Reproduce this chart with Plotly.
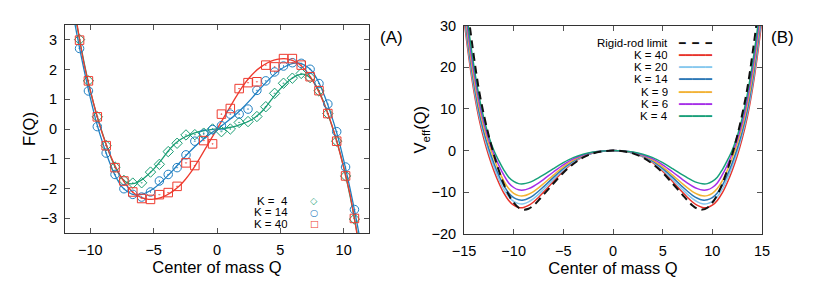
import plotly.graph_objects as go

# ---------------- Panel A data ----------------
q_markers = [-10.85, -10.15, -9.45, -8.75, -8.05, -7.35, -6.65, -5.95, -5.25, -4.55,
             -3.85, -3.15, -2.45, -1.75, -1.05, -0.35, 0.35, 1.05, 1.75, 2.45,
             3.15, 3.85, 4.55, 5.25, 5.95, 6.65, 7.35, 8.05, 8.75, 9.45, 10.15, 10.85]
f_k4_points = [3.01, 1.62, 0.41, -0.56, -1.28, -1.73, -1.82, -1.81, -1.45, -1.19,
               -0.76, -0.48, -0.20, -0.19, -0.14, 0.00, -0.09, 0.00, 0.22, 0.25,
               0.42, 0.75, 1.20, 1.54, 1.71, 1.87, 1.73, 1.28, 0.52, -0.41, -1.58, -3.03]
f_k14_points = [2.71, 1.28, 0.08, -0.81, -1.53, -2.01, -2.20, -2.29, -2.12, -1.75,
                -1.53, -1.30, -0.87, -0.41, -0.17, -0.02, 0.11, 0.50, 0.50, 0.67,
                1.30, 1.62, 1.92, 2.12, 2.23, 2.21, 2.01, 1.53, 0.84, -0.09, -1.28, -2.71]
f_k40_points = [2.99, 1.62, 0.41, -0.56, -1.30, -1.75, -2.12, -2.34, -2.37, -2.21,
                -2.14, -1.93, -1.14, -1.23, -0.39, -0.50, 0.50, 0.69, 1.36, 1.56,
                1.59, 2.15, 2.09, 2.37, 2.37, 2.15, 1.76, 1.29, 0.52, -0.41, -1.58, -3.01]

# fitted curves (Q >= 0 half; curves are odd in Q)
q_fit_half = [0, 0.5, 1, 1.5, 2, 2.5, 3, 3.5, 4, 4.5, 5, 5.5, 6, 6.5, 7, 7.5, 8, 8.5,
              9, 9.5, 10, 10.5, 11, 11.5]
f_k4_fit_half = [0, 0.02, 0.05, 0.10, 0.17, 0.26, 0.39, 0.57, 0.82, 1.10, 1.35, 1.56,
                 1.73, 1.83, 1.83, 1.66, 1.32, 0.82, 0.20, -0.48, -1.28, -2.25, -3.35, -4.6]
f_k14_fit_half = [0, 0.15, 0.32, 0.50, 0.70, 0.92, 1.16, 1.40, 1.62, 1.83, 2.00, 2.13,
                  2.21, 2.22, 2.13, 1.95, 1.60, 1.10, 0.50, -0.20, -1.05, -2.00, -3.05, -4.2]
f_k40_fit_half = [0, 0.36, 0.72, 1.08, 1.42, 1.70, 1.93, 2.10, 2.23, 2.32, 2.36, 2.36,
                  2.30, 2.18, 1.97, 1.67, 1.28, 0.80, 0.22, -0.48, -1.30, -2.20, -3.40, -4.7]

# ---------------- Panel B data ----------------
q_pot_half = [0, 1, 2, 3, 4, 5, 6, 7, 7.5, 8, 8.5, 9, 9.5, 10, 10.5, 11, 11.5, 12,
              12.5, 13, 13.5, 14, 14.5, 15]
v_rigid_half = [0, -0.16, -0.66, -1.65, -3.2, -5.3, -7.9, -10.6, -11.95, -13.15, -13.95,
                -14.15, -13.7, -12.5, -10.6, -8.0, -4.7, -0.9, 3.5, 8.6, 14.6, 22.5, 31.5, 42.0]
v_k40_half = [0, -0.15, -0.6, -1.51, -2.88, -4.93, -7.4, -10.0, -11.23, -12.33, -13.15,
              -13.63, -13.62, -13.1, -11.95, -10.15, -7.7, -4.75, -1.3, 2.8, 7.8, 14.2, 22.1, 31.5]
v_k20_half = [0, -0.14, -0.56, -1.41, -2.69, -4.61, -6.91, -9.34, -10.5, -11.52, -12.29,
              -12.74, -12.72, -12.2, -11.05, -9.25, -6.8, -3.85, -0.4, 3.7, 8.7, 15.1, 23.1, 32.8]
v_k14_half = [0, -0.13, -0.52, -1.31, -2.5, -4.28, -6.43, -8.69, -9.76, -10.71, -11.42,
              -11.84, -11.8, -11.3, -10.15, -8.35, -5.9, -2.95, 0.45, 4.5, 9.5, 16.0, 24.0, 33.8]
v_k9_half = [0, -0.12, -0.48, -1.2, -2.29, -3.92, -5.89, -7.96, -8.94, -9.81, -10.46,
             -10.85, -10.8, -10.25, -9.1, -7.25, -4.75, -1.75, 1.6, 5.6, 10.7, 17.2, 25.4, 35.2]
v_k6_half = [0, -0.1, -0.42, -1.05, -2.0, -3.42, -5.13, -6.94, -7.8, -8.55, -9.12,
             -9.45, -9.4, -8.85, -7.75, -5.85, -3.5, -0.75, 2.5, 6.6, 11.9, 18.7, 26.8, 36.3]
v_k4_half = [0, -0.09, -0.35, -0.88, -1.68, -2.88, -4.32, -5.84, -6.56, -7.2, -7.68,
             -7.96, -7.92, -7.4, -6.4, -4.6, -2.4, 0.1, 3.4, 7.7, 13.2, 20.2, 28.4, 38.0]

labels_a = ["K = \u00a04", "K = 14", "K = 40"]
labels_b = ["Rigid-rod limit", "K = 40", "K = 20", "K = 14", "K = 9", "K = 6", "K = 4"]


def odd_full(qh, fh):
    q = [-v for v in reversed(qh[1:])] + list(qh)
    f = [-v for v in reversed(fh[1:])] + list(fh)
    return q, f


def even_full(qh, vh):
    q = [-v for v in reversed(qh[1:])] + list(qh)
    v = list(reversed(vh[1:])) + list(vh)
    return q, v


GREEN = "#1a9e74"
BLUE = "#1f7fc2"
RED = "#ee3a2e"

FONT = "Liberation Sans, Arial, Helvetica, sans-serif"

fig = go.Figure()

# Panel A curves
for fh, col in [(f_k4_fit_half, GREEN), (f_k14_fit_half, BLUE), (f_k40_fit_half, RED)]:
    q, f = odd_full(q_fit_half, fh)
    fig.add_trace(go.Scatter(x=q, y=f, mode="lines", line=dict(color=col, width=1.3, shape="spline"),
                             xaxis="x", yaxis="y", showlegend=False, hoverinfo="skip"))

# Panel A markers
for pts, col, sym, sz, name in [(f_k4_points, GREEN, "diamond-open-dot", 8, labels_a[0]),
                                (f_k14_points, BLUE, "circle-open-dot", 8.5, labels_a[1]),
                                (f_k40_points, RED, "square-open-dot", 8.5, labels_a[2])]:
    fig.add_trace(go.Scatter(x=q_markers, y=pts, mode="markers", name=name,
                             marker=dict(symbol=sym, size=sz, color=col, line=dict(color=col, width=1.0)),
                             xaxis="x", yaxis="y", showlegend=False))

# Panel B curves
B_COLS = ["#e8322a", "#86c8ee", "#2a78b6", "#f2b233", "#a62ee8", "#17a07a"]
b_series = [
    (v_k40_half, B_COLS[0], None, 1.5),
    (v_k20_half, B_COLS[1], None, 1.5),
    (v_k14_half, B_COLS[2], None, 1.5),
    (v_k9_half, B_COLS[3], None, 1.5),
    (v_k6_half, B_COLS[4], None, 1.5),
    (v_k4_half, B_COLS[5], None, 1.5),
    (v_rigid_half, "#111111", "8px,5px", 2.0),
]
for vh, col, dash, w in b_series:
    q, v = even_full(q_pot_half, vh)
    fig.add_trace(go.Scatter(x=q, y=v, mode="lines",
                             line=dict(color=col, width=w, shape="spline", dash=dash or "solid"),
                             xaxis="x2", yaxis="y2", showlegend=False, hoverinfo="skip"))

axis_common = dict(showline=True, linecolor="#333333", linewidth=1, mirror="ticks",
                   ticks="inside", ticklen=5, tickcolor="#555555", showgrid=False, zeroline=False,
                   automargin=False,
                   tickfont=dict(family=FONT, size=14.5, color="black"))

W, H = 822, 288


def px(x):
    return x / W


def py(y):
    return 1 - y / H


fig.update_layout(
    width=W, height=H, margin=dict(l=0, r=0, t=0, b=0, pad=0),
    paper_bgcolor="white", plot_bgcolor="white", template="none",
    font=dict(family=FONT, size=15, color="black"),
    xaxis=dict(domain=[px(65), px(369)], range=[-12, 12], dtick=5, anchor="y",
               ticklabelstandoff=4,
               title=dict(text="Center of mass Q", standoff=0, font=dict(size=16.5)), **axis_common),
    yaxis=dict(domain=[py(233), py(25)], range=[-3.5, 3.5], dtick=1, anchor="x",
               ticklabelstandoff=4,
               title=dict(text="F(Q)", standoff=0, font=dict(size=16.5)), **axis_common),
    xaxis2=dict(domain=[px(464), px(762)], range=[-15, 15], dtick=5, anchor="y2",
                ticklabelstandoff=4,
                title=dict(text="Center of mass Q", standoff=0, font=dict(size=16.5)), **axis_common),
    yaxis2=dict(domain=[py(234), py(25.5)], range=[-20, 30], dtick=10, anchor="x2",
                ticklabelstandoff=4,
                title=dict(text="V<sub>eff</sub>(Q)", standoff=0, font=dict(size=16.5)), **axis_common),
)

ann = []
# panel labels
ann.append(dict(text="(A)", x=px(391), y=py(37), xref="paper", yref="paper", showarrow=False,
                xanchor="center", yanchor="middle", font=dict(size=17)))
ann.append(dict(text="(B)", x=px(782), y=py(37), xref="paper", yref="paper", showarrow=False,
                xanchor="center", yanchor="middle", font=dict(size=17)))

# legend A (text right-aligned, sample to the right)
leg_a_rows = [200, 211.5, 223]
leg_a_syms = [("\u25c7", GREEN), ("\u25cb", BLUE), ("\u25a1", RED)]
for lab, yy, (sym, col) in zip(labels_a, leg_a_rows, leg_a_syms):
    ann.append(dict(text=lab, x=px(290), y=py(yy), xref="paper", yref="paper", showarrow=False,
                    xanchor="right", yanchor="middle", height=11, valign="middle",
                    font=dict(size=11.5)))
    ann.append(dict(text=sym, x=px(314), y=py(yy), xref="paper", yref="paper", showarrow=False,
                    xanchor="center", yanchor="middle", height=10, valign="middle",
                    font=dict(size=9.5, color=col, family="DejaVu Sans")))

# legend B
leg_b_rows = [43.3, 54.5, 66.8, 79.2, 91.6, 104, 116.3]
leg_b_cols = ["#111111"] + B_COLS
for i, (lab, yy, col) in enumerate(zip(labels_b, leg_b_rows, leg_b_cols)):
    ann.append(dict(text=lab, x=px(670), y=py(yy), xref="paper", yref="paper", showarrow=False,
                    xanchor="right", yanchor="middle", height=12, valign="middle",
                    font=dict(size=11.5)))
    sample = "\u2501 \u2501 \u2501" if i == 0 else "\u2501\u2501\u2501\u2501\u2501"
    ann.append(dict(text=sample, x=px(676), y=py(yy), xref="paper", yref="paper", showarrow=False,
                    xanchor="left", yanchor="middle", height=12, valign="middle",
                    font=dict(size=11, color=col, family="DejaVu Sans Mono")))

fig.update_layout(annotations=ann)

fig.write_html("out.html", post_script="document.body.style.margin='0';",
               config={"displayModeBar": False})
